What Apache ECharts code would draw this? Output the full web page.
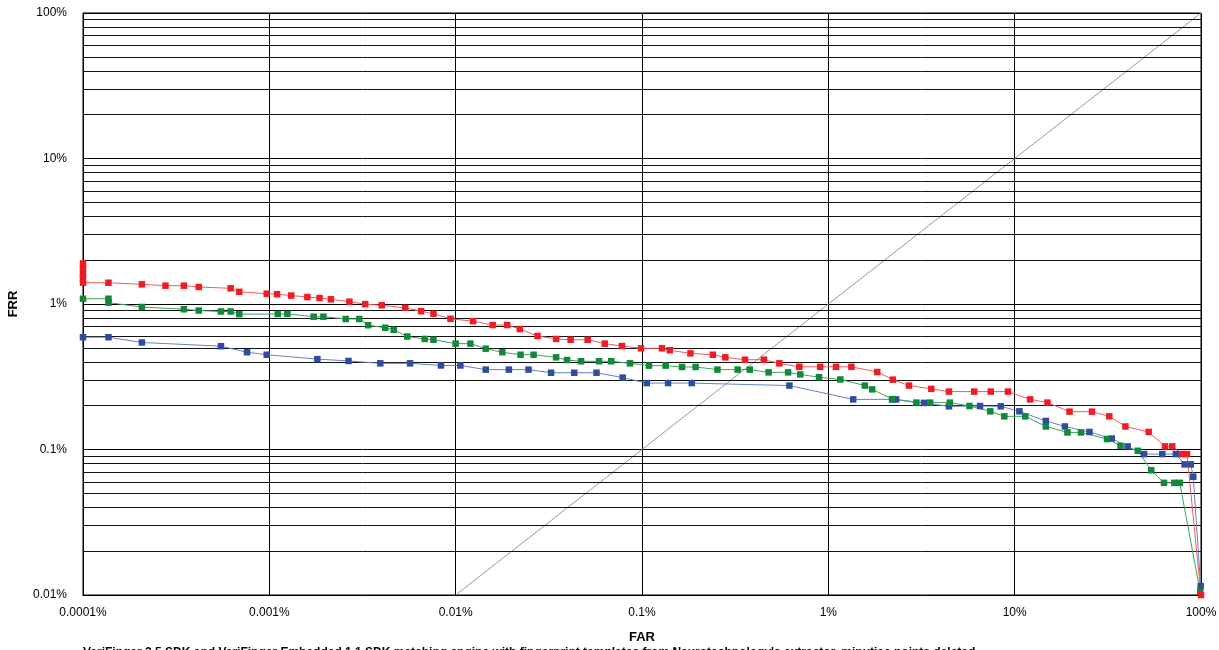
<!DOCTYPE html>
<html>
<head>
<meta charset="utf-8">
<title>DET curves</title>
<script src="https://cdn.jsdelivr.net/npm/echarts/dist/echarts.min.js"></script>
<style>
  html, body { margin: 0; padding: 0; background: #fff; }
  #main { width: 1219px; height: 650px; }
</style>
</head>
<body>
<div id="main"></div>
<script>
// tick labels
var xTickLabels = ['0.0001%', '0.001%', '0.01%', '0.1%', '1%', '10%', '100%'];
var yTickLabels = ['0.01%', '0.1%', '1%', '10%', '100%'];
// horizontal grid lines between decades (FRR, %)
var yGridLines = [0.02, 0.03, 0.04, 0.05, 0.06, 0.07, 0.08, 0.09,
  0.2, 0.3, 0.4, 0.5, 0.6, 0.7, 0.8, 0.9,
  2, 3, 4, 5, 6, 7, 8, 9,
  20, 30, 40, 50, 60, 70, 80, 90];

// FAR / FRR values in %
var redFar = [0.0001, 0.0001, 0.0001, 0.0001, 0.0001, 0.000137, 0.000207, 0.000277, 0.000348, 0.000418,
  0.00062, 0.00069, 0.000968, 0.0011, 0.00131, 0.0016, 0.00186, 0.00214, 0.00269, 0.00327,
  0.00401, 0.00536, 0.00652, 0.0076, 0.00938, 0.0124, 0.0158, 0.0189, 0.0221, 0.0275,
  0.0346, 0.0414, 0.0511, 0.0631, 0.0781, 0.0988, 0.128, 0.141, 0.182, 0.240,
  0.280, 0.357, 0.451, 0.546, 0.699, 0.904, 1.10, 1.33, 1.83, 2.22,
  2.71, 3.57, 4.44, 6.07, 7.44, 9.21, 12.1, 15.0, 19.7, 26.0,
  32.2, 39.3, 52.4, 64.1, 70.1, 79.1, 84.1, 100];
var redFrr = [1.9, 1.75, 1.6, 1.5, 1.4, 1.40, 1.365, 1.336, 1.336, 1.309,
  1.282, 1.213, 1.177, 1.168, 1.143, 1.117, 1.099, 1.077, 1.037, 0.997,
  0.98, 0.942, 0.892, 0.858, 0.791, 0.762, 0.717, 0.717, 0.673, 0.603,
  0.575, 0.568, 0.568, 0.534, 0.514, 0.496, 0.496, 0.481, 0.458, 0.448,
  0.43, 0.414, 0.414, 0.391, 0.37, 0.37, 0.37, 0.37, 0.341, 0.302,
  0.275, 0.261, 0.25, 0.25, 0.25, 0.25, 0.221, 0.21, 0.182, 0.182,
  0.169, 0.144, 0.132, 0.105, 0.105, 0.093, 0.093, 0.01];

var greenFar = [0.0001, 0.000137, 0.000137, 0.000207, 0.000348, 0.000418, 0.00055, 0.00062, 0.00069, 0.00111,
  0.00125, 0.00173, 0.00195, 0.00257, 0.00304, 0.00339, 0.00419, 0.00465, 0.0055, 0.00682,
  0.0076, 0.01, 0.012, 0.0145, 0.0178, 0.0223, 0.0262, 0.0346, 0.0396, 0.0471,
  0.0588, 0.0684, 0.0862, 0.109, 0.134, 0.164, 0.194, 0.254, 0.326, 0.379,
  0.478, 0.608, 0.707, 0.891, 1.16, 1.57, 1.72, 2.20, 2.97, 3.52,
  4.49, 5.72, 7.40, 8.80, 11.4, 14.7, 19.2, 22.7, 31.3, 37.0,
  45.8, 54.1, 63.3, 71.9, 76.9, 99];
var greenFrr = [1.087, 1.087, 1.021, 0.954, 0.92, 0.902, 0.888, 0.888, 0.851, 0.854,
  0.854, 0.818, 0.818, 0.789, 0.789, 0.715, 0.687, 0.665, 0.598, 0.575,
  0.568, 0.534, 0.534, 0.493, 0.466, 0.448, 0.448, 0.43, 0.412, 0.404,
  0.404, 0.404, 0.391, 0.377, 0.377, 0.369, 0.369, 0.354, 0.354, 0.354,
  0.339, 0.339, 0.328, 0.314, 0.303, 0.275, 0.259, 0.222, 0.21, 0.21,
  0.21, 0.199, 0.183, 0.169, 0.169, 0.144, 0.131, 0.131, 0.118, 0.106,
  0.098, 0.072, 0.059, 0.059, 0.059, 0.0105];

var blueFar = [0.0001, 0.000137, 0.000207, 0.00055, 0.000759, 0.000968, 0.00181, 0.00266, 0.00394, 0.00569,
  0.00834, 0.0106, 0.0145, 0.0193, 0.0246, 0.0325, 0.0433, 0.057, 0.0788, 0.106,
  0.138, 0.185, 0.618, 1.36, 2.20, 2.31, 3.26, 4.44, 6.52, 8.42,
  10.6, 14.7, 18.6, 25.2, 33.2, 40.4, 49.5, 62.0, 73.3, 81.6,
  88.1, 90.9, 99.6];
var blueFrr = [0.591, 0.591, 0.544, 0.513, 0.466, 0.448, 0.418, 0.406, 0.391, 0.391,
  0.378, 0.378, 0.354, 0.354, 0.354, 0.337, 0.337, 0.337, 0.312, 0.286,
  0.286, 0.286, 0.275, 0.221, 0.221, 0.221, 0.209, 0.198, 0.199, 0.198,
  0.183, 0.157, 0.144, 0.132, 0.119, 0.105, 0.093, 0.093, 0.093, 0.079,
  0.079, 0.065, 0.0115];

// equal error reference line FAR = FRR
var eerFar = [0.01, 100];
var eerFrr = [0.01, 100];

var caption = 'VeriFinger 2.5 SDK and VeriFinger Embedded 1.1 SDK matching engine with fingerprint templates from Neurotechnology\'s extractor, minutiae points deleted';

function zip(a, b) {
  var out = [];
  for (var i = 0; i < a.length; i++) out.push([a[i], b[i]]);
  return out;
}

function curve(name, far, frr, lineColor, markColor) {
  return {
    name: name,
    type: 'line',
    data: zip(far, frr),
    symbol: 'rect',
    symbolSize: 6.5,
    clip: false,
    animation: false,
    lineStyle: { color: lineColor, width: 1 },
    itemStyle: { color: markColor },
    z: 5
  };
}

var font = '"Liberation Sans", Arial, sans-serif';

var chart = echarts.init(document.getElementById('main'));
var option = {
  animation: false,
  grid: {
    left: 83, right: 18, top: 13, bottom: 55,
    containLabel: false,
    outerBoundsMode: 'none',
    show: true,
    borderColor: '#000',
    borderWidth: 1
  },
  xAxis: {
    type: 'log',
    logBase: 10,
    min: 0.0001,
    max: 100,
    name: 'FAR',
    nameLocation: 'middle',
    nameGap: 36,
    nameTextStyle: { fontFamily: font, fontWeight: 'bold', fontSize: 13, color: '#000' },
    axisLine: { lineStyle: { color: '#000', width: 1 } },
    axisTick: { show: false },
    axisLabel: {
      margin: 12,
      fontFamily: font,
      fontSize: 12,
      color: '#000',
      formatter: function(v) {
        return xTickLabels[Math.round(Math.log10(v)) + 4];
      }
    },
    splitLine: { show: true, lineStyle: { color: '#000', width: 1 } }
  },
  yAxis: {
    type: 'log',
    logBase: 10,
    min: 0.01,
    max: 100,
    name: 'FRR',
    nameLocation: 'middle',
    nameGap: 63,
    nameTextStyle: { fontFamily: font, fontWeight: 'bold', fontSize: 13, color: '#000' },
    axisLine: { lineStyle: { color: '#000', width: 1 } },
    axisTick: { show: false },
    axisLabel: {
      margin: 16,
      fontFamily: font,
      fontSize: 12,
      color: '#000',
      formatter: function(v) {
        return yTickLabels[Math.round(Math.log10(v)) + 2];
      }
    },
    splitLine: { show: true, lineStyle: { color: '#000', width: 1 } }
  },
  graphic: [{
    type: 'text',
    left: 83,
    top: 647,
    style: {
      text: caption,
      font: 'bold 12px ' + font,
      fill: '#000'
    }
  }],
  series: [
    {
      name: 'EER',
      type: 'line',
      data: zip(eerFar, eerFrr),
      symbol: 'none',
      silent: true,
      animation: false,
      lineStyle: { color: '#999', width: 1 },
      z: 3,
      markLine: {
        silent: true,
        symbol: ['none', 'none'],
        label: { show: false },
        animation: false,
        lineStyle: { color: '#111', width: 1, type: 'solid' },
        data: yGridLines.map(function(v) { return { yAxis: v }; })
      }
    },
    curve('blue', blueFar, blueFrr, '#6680c4', '#2e4d9e'),
    curve('green', greenFar, greenFrr, '#3aa35a', '#12883a'),
    curve('red', redFar, redFrr, '#f25a5a', '#ee1c24')
  ]
};
chart.setOption(option);

window.onresize = function() {
  chart.resize();
};
</script>
</body>
</html>
